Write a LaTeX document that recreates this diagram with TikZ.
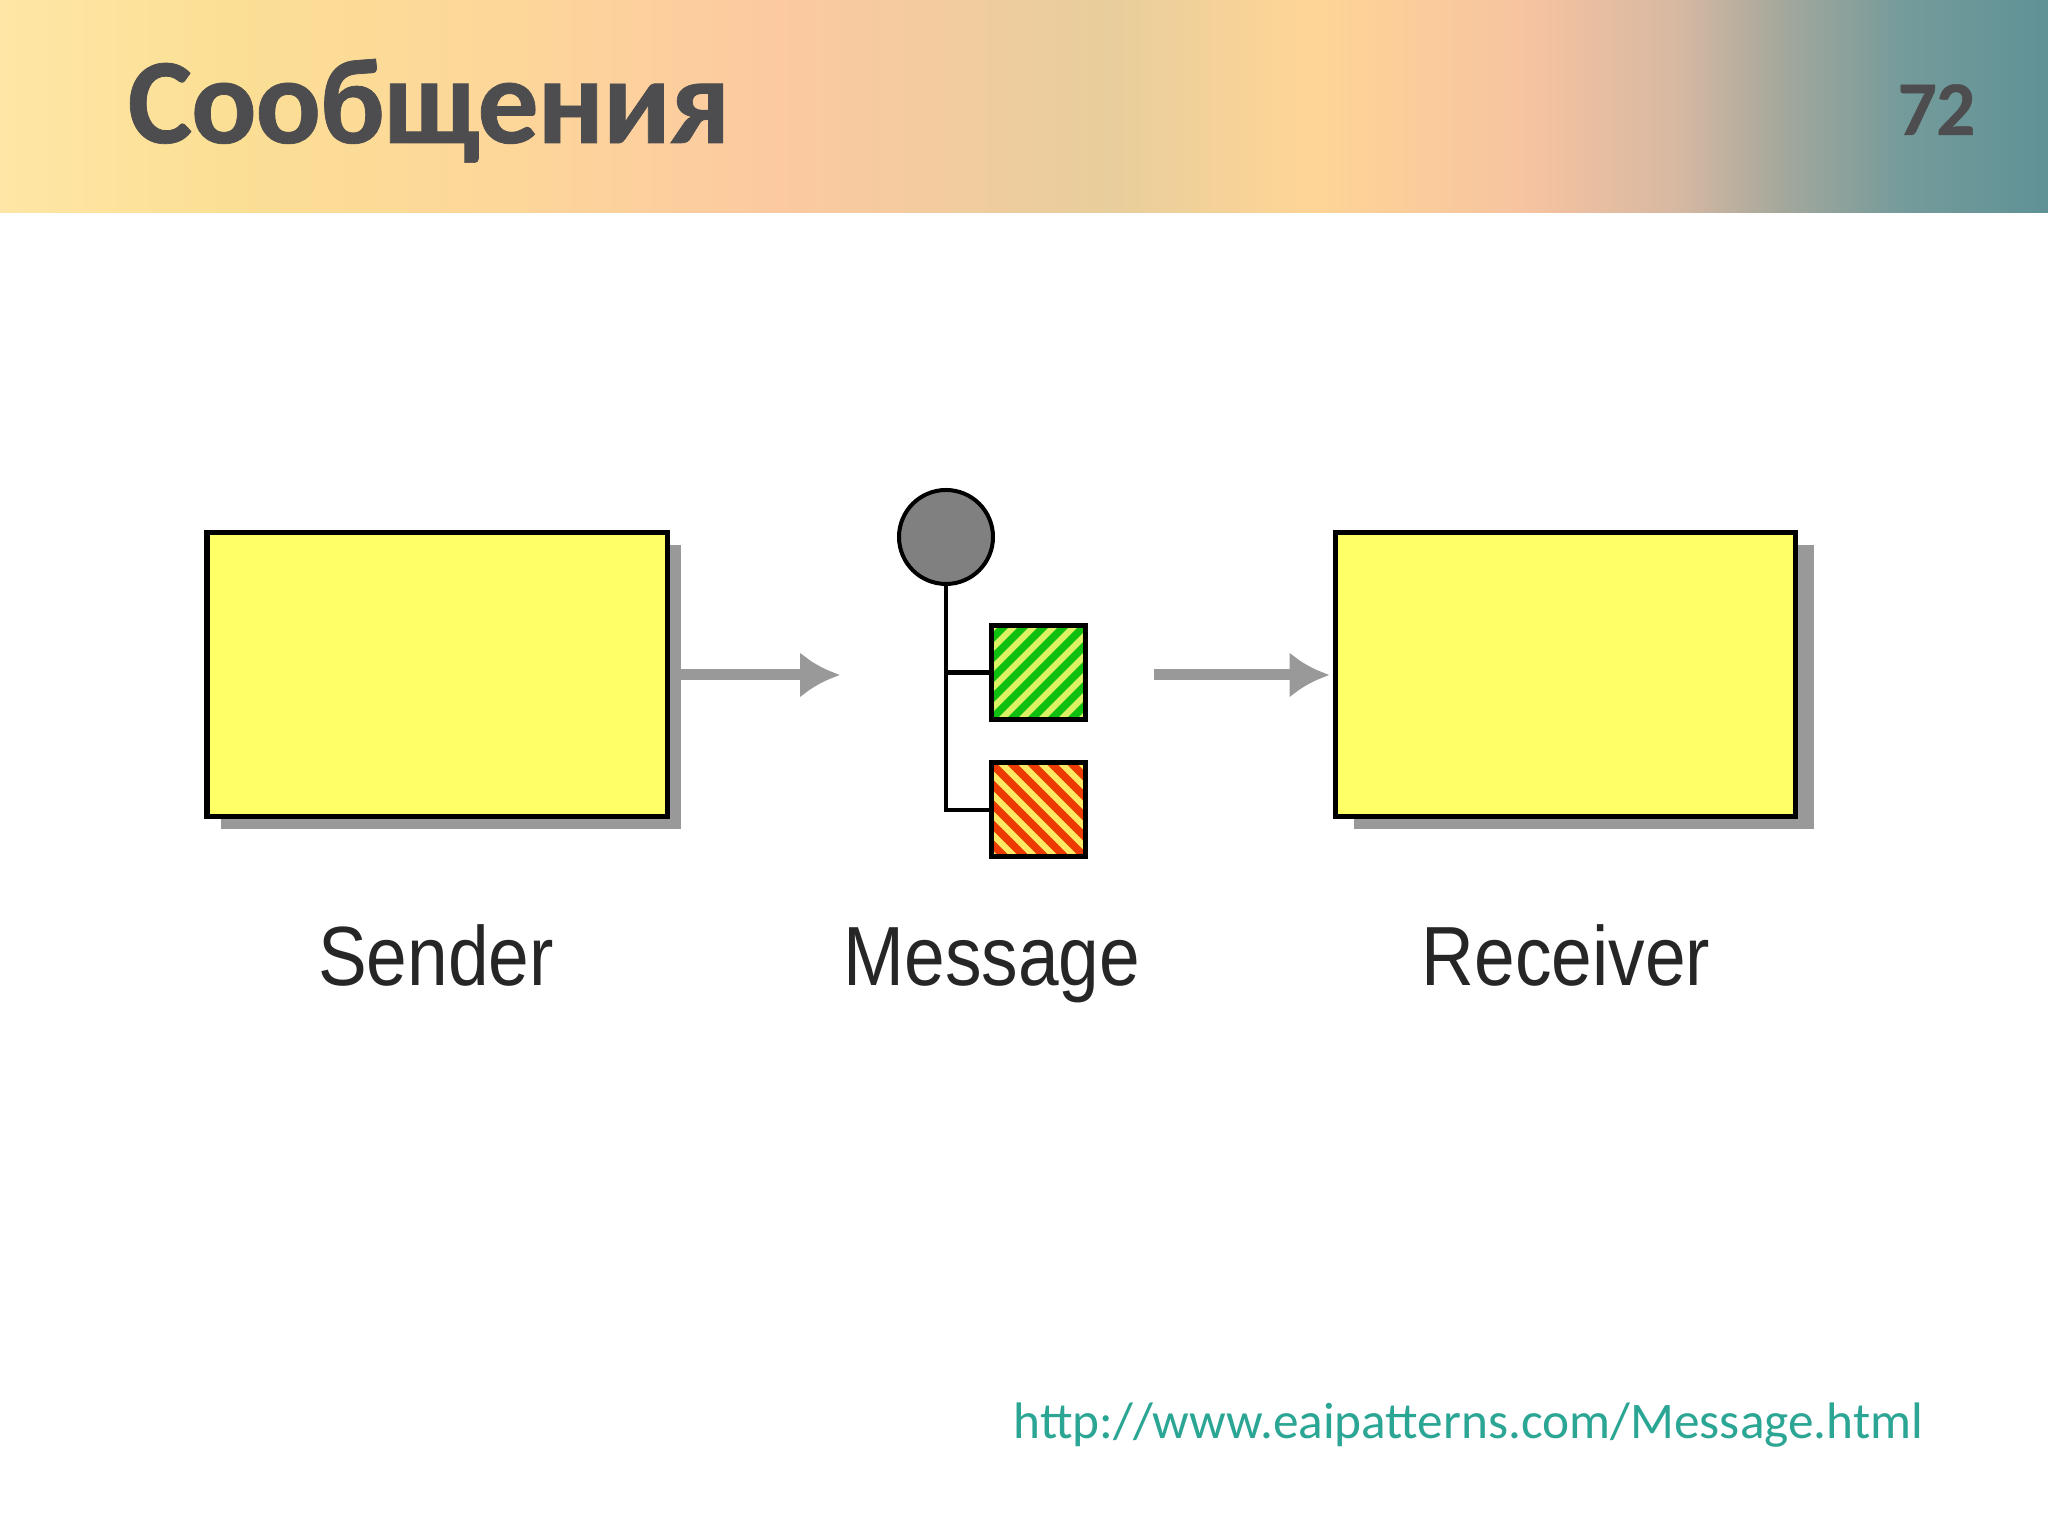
\documentclass[tikz,border=0pt]{standalone}
\usepackage{xcolor}
\usepackage{fontspec}
\usetikzlibrary{arrows.meta,shadows,positioning}
\setmainfont{Carlito}
\newfontfamily\titlefont[LetterSpace=-1.0,FakeBold=0.6]{Carlito Bold}
\newfontfamily\labelfont[FakeStretch=0.87]{Liberation Sans}
\definecolor{titlegray}{HTML}{4D4D4F}
\definecolor{boxyellow}{HTML}{FFFF66}
\definecolor{linkteal}{HTML}{2BA594}
\definecolor{arrowgray}{HTML}{999999}
\definecolor{greenstripe}{HTML}{10C010}
\definecolor{greenback}{HTML}{DCF264}
\definecolor{redstripe}{HTML}{EC3A00}
\definecolor{redback}{HTML}{FFE864}
\tikzset{
    endpoint/.style={draw=black,fill=boxyellow,line width=0.05cm,minimum width=4.6cm,minimum height=2.84cm,outer sep=0pt},
    headdot/.style={circle,draw=black,fill=gray,line width=0.04cm,minimum size=0.94cm,inner sep=0pt,outer sep=0pt},
    flagbox/.style n args={3}{draw=black,fill=#1,line width=0.05cm,minimum size=0.94cm,inner sep=0pt,outer sep=0pt,path picture={
        \foreach \i in {-6,...,6}
            \draw[#2,line width=0.075cm,shift={(path picture bounding box.center)}] (\i*0.2-0.6,-0.6*#3) -- ++(1.2,1.2*#3);
    }},
    flow/.style={draw=arrowgray,line width=0.11cm,-{Latex[length=0.4cm,width=0.46cm]}},
    wire/.style={draw=black,line width=0.045cm},
    caption/.style={font=\labelfont\fontsize{23.9}{28}\selectfont,text=black!85,inner sep=0pt}
}
\begin{document}
\begin{tikzpicture}
    \useasboundingbox (0,0) rectangle (20.48,15.36);
    \fill[white] (0,0) rectangle (20.48,15.36);
    % title band
    \foreach \xa/\xb/\ca/\cb in {0/2.3/FFE6A6/FBDF94,2.3/5.2/FBDF94/FDD69A,5.2/7.8/FDD69A/FCC9A0,7.8/11.1/FCC9A0/E8CE9C,11.1/13.1/E8CE9C/FFD596,13.1/15.3/FFD596/F6C3A0,15.3/16.8/F6C3A0/D6B8A2,16.8/17.8/D6B8A2/A5A89C,17.8/19/A5A89C/759B9B,19/20.48/759B9B/5F9296}{
        \definecolor{ca}{HTML}{\ca}
        \definecolor{cb}{HTML}{\cb}
        \fill[left color=ca,right color=cb] (\xa,13.23) rectangle (\xb+0.01,15.36);
    }
    \node[anchor=base west,inner sep=0pt,text=titlegray,font=\titlefont\fontsize{34.7}{40}\selectfont] (title) at (1.27,13.93) {Сообщения};
    \node[anchor=base east,inner sep=0pt,text=titlegray,font=\titlefont\fontsize{22}{28}\selectfont] (pagenum) at (19.76,14.01) {72};
    % sender, message, receiver
    \node[endpoint,drop shadow={shadow xshift=0.14cm,shadow yshift=-0.12cm,fill=arrowgray,opacity=1}] (sender) at (4.37,8.61) {};
    \node[endpoint,drop shadow={shadow xshift=0.18cm,shadow yshift=-0.12cm,fill=arrowgray,opacity=1}] (receiver) at (15.655,8.61) {};
    \node[headdot] (msghead) at (9.46,9.99) {};
    \node[flagbox={greenback}{greenstripe}{1}] (greenflag) at (10.38,8.635) {};
    \node[flagbox={redback}{redstripe}{-1}] (redflag) at (10.38,7.26) {};
    \draw[wire] (msghead.south) |- (redflag.west);
    \draw[wire] (msghead.south |- greenflag.west) -- (greenflag.west);
    \coordinate (sendout) at (8.4,8.61);
    \coordinate (recvin) at (11.54,8.61);
    \draw[flow,shorten <=0.12cm] (sender.east) -- (sendout);
    \draw[flow,shorten >=0.06cm] (recvin) -- (receiver.west);
    % captions
    \node[caption,anchor=base] (sendertext) at (4.36,5.5) {Sender};
    \node[caption,anchor=base] (msgtext) at (9.92,5.5) {Message};
    \node[caption,anchor=base] (receivertext) at (15.66,5.5) {Receiver};
    \node[anchor=east,inner sep=0pt,text=linkteal,font=\fontsize{14.6}{18}\selectfont] (source) at (19.24,1.11) {http://www.eaipatterns.com/Message.html};
\end{tikzpicture}
\end{document}
